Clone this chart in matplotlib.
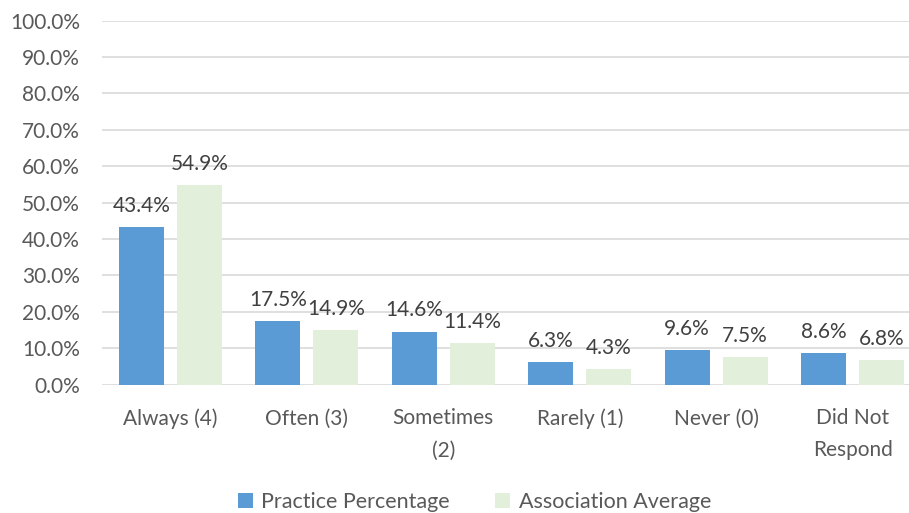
import numpy as np
import matplotlib.pyplot as plt

categories = ['Always (4)', 'Often (3)', 'Sometimes\n(2)', 'Rarely (1)', 'Never (0)', 'Did Not\nRespond']
practice = [43.4, 17.5, 14.6, 6.3, 9.6, 8.6]
association = [54.9, 14.9, 11.4, 4.3, 7.5, 6.8]

plt.rcParams['font.family'] = ['Lato', 'DejaVu Sans']
grey = '#595959'

fig = plt.figure(figsize=(9.09, 5.13), dpi=100)
ax = fig.add_axes([0.1125, 0.25, 0.9005, 0.71])

x = np.arange(len(categories))
w = 0.33
off = (w + 0.095) / 2
b1 = ax.bar(x - off, practice, w, color='#5B9BD5', label='Practice Percentage', zorder=3)
b2 = ax.bar(x + off, association, w, color='#E2EFDA', label='Association Average', zorder=3)

for bars, vals in ((b1, practice), (b2, association)):
    for r, v in zip(bars, vals):
        ax.annotate(f'{v:.1f}%', (r.get_x() + r.get_width() / 2, v), xytext=(0, 8),
                    textcoords='offset points', ha='center', va='bottom',
                    fontsize=15, color='#404040')

ax.set_xlim(-0.5, len(categories) - 0.5)
ax.set_ylim(0, 100)
ax.set_yticks(range(0, 101, 10))
ax.set_yticklabels([f'{t:.1f}%' for t in range(0, 101, 10)])
ax.set_xticks(x)
ax.set_xticklabels(categories, linespacing=1.75)
ax.tick_params(axis='both', length=0, labelsize=15, labelcolor=grey)
ax.tick_params(axis='y', pad=16)
ax.tick_params(axis='x', pad=17)
ax.grid(axis='y', color='#D9D9D9', linewidth=1.2, zorder=0)
for s in ax.spines.values():
    s.set_visible(False)

fig.legend(loc='lower center', bbox_to_anchor=(0.522, -0.035), ncol=2, frameon=False,
           fontsize=15.5, labelcolor=grey, handlelength=0.7, handleheight=0.7,
           columnspacing=2.1, handletextpad=0.4)

fig.savefig('out.png', dpi=100)
